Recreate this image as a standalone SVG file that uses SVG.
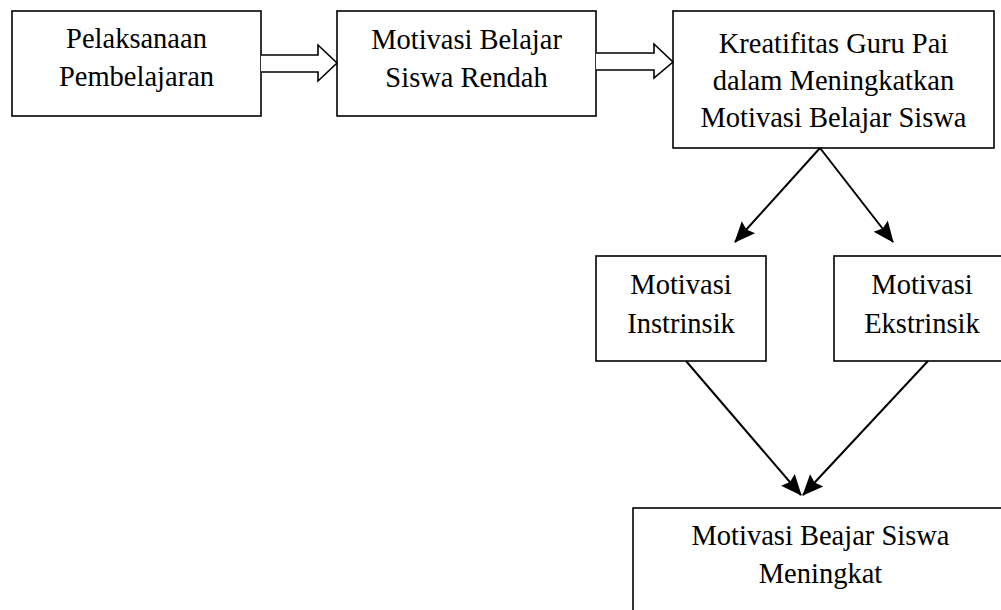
<svg xmlns="http://www.w3.org/2000/svg" width="1001" height="610" viewBox="0 0 1001 610">
<style>
.box{fill:#fff;stroke:#000;stroke-width:1.6}
.t{font-family:"Liberation Serif","Times New Roman",serif;font-size:28.5px;fill:#000;text-anchor:middle}
.blk{fill:#fff;stroke:#000;stroke-width:1.6;stroke-linejoin:miter}
.ln{stroke:#000;stroke-width:2;fill:none}
</style>
<defs>
<marker id="ah" viewBox="0 0 21 18" markerWidth="21" markerHeight="18" refX="20" refY="9" markerUnits="userSpaceOnUse" orient="auto" overflow="visible">
<path d="M0,0 L21,9 L0,18 L3,9 Z" fill="#000"/>
</marker>
</defs>
<rect width="1001" height="610" fill="#fff"/>
<g id="n1"><rect class="box" x="12" y="11" width="249" height="105"/><text class="t" x="136.5" y="48">Pelaksanaan</text><text class="t" x="136.5" y="86">Pembelajaran</text></g>
<g id="n2"><rect class="box" x="337" y="11" width="259" height="105"/><text class="t" x="466.5" y="49">Motivasi Belajar</text><text class="t" x="466.5" y="87">Siswa Rendah</text></g>
<g id="n3"><rect class="box" x="673" y="11" width="321" height="137"/><text class="t" x="833.5" y="53">Kreatifitas Guru Pai</text><text class="t" x="833.5" y="90">dalam Meningkatkan</text><text class="t" x="833.5" y="127">Motivasi Belajar Siswa</text></g>
<g id="n4"><rect class="box" x="596" y="256" width="170" height="105"/><text class="t" x="681" y="294">Motivasi</text><text class="t" x="681" y="333">Instrinsik</text></g>
<g id="n5"><rect class="box" x="834" y="256" width="176" height="105"/><text class="t" x="922" y="294">Motivasi</text><text class="t" x="922" y="333">Ekstrinsik</text></g>
<g id="n6"><rect class="box" x="633" y="508" width="376" height="120"/><text class="t" x="820.5" y="545">Motivasi Beajar Siswa</text><text class="t" x="820.5" y="583">Meningkat</text></g>
<g id="connectors">
<path class="blk" d="M261,55 H318 V45 L337,63 L318,81 V72 H261"/>
<path class="blk" d="M596,53 H654 V44 L673,62 L654,78 V70 H596"/>
<line class="ln" x1="820" y1="148" x2="735" y2="242" marker-end="url(#ah)"/>
<line class="ln" x1="820" y1="148" x2="893" y2="242" marker-end="url(#ah)"/>
<line class="ln" x1="686" y1="361" x2="801" y2="495" marker-end="url(#ah)"/>
<line class="ln" x1="928" y1="361" x2="803" y2="495" marker-end="url(#ah)"/>
</g>
</svg>
